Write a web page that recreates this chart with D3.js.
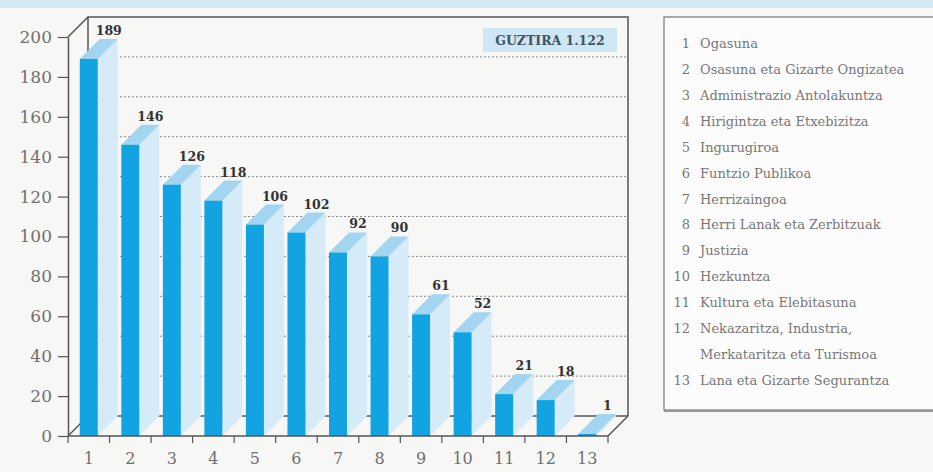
<!DOCTYPE html>
<html><head><meta charset="utf-8">
<script src="https://cdn.jsdelivr.net/npm/d3@7"></script>
<style>html,body{margin:0;padding:0;background:#f7f7f6;overflow:hidden}</style>
</head><body><svg id="c" width="933" height="472"></svg>
<script>
const categories = ["1","2","3","4","5","6","7","8","9","10","11","12","13"];
const values = [189,146,126,118,106,102,92,90,61,52,21,18,1];
const yTicks = [0,20,40,60,80,100,120,140,160,180,200];
const legendNumbers = ["1","2","3","4","5","6","7","8","9","10","11","12","","13"];
const legendLabels = ["Ogasuna","Osasuna eta Gizarte Ongizatea","Administrazio Antolakuntza","Hirigintza eta Etxebizitza","Ingurugiroa","Funtzio Publikoa","Herrizaingoa","Herri Lanak eta Zerbitzuak","Justizia","Hezkuntza","Kultura eta Elebitasuna","Nekazaritza, Industria,","Merkataritza eta Turismoa","Lana eta Gizarte Segurantza"];
const totalLabel = "GUZTIRA 1.122";

const svg = d3.select("#c");
const D = 20; // depth offset
const x = d3.scaleBand().domain(categories).range([68,608]);
const y = d3.scaleLinear().domain([0,200]).range([436,37]);
const serif = "'DejaVu Serif', serif";

svg.append("rect").attr("x",0).attr("y",0).attr("width",933).attr("height",8).attr("fill","#d3e8f4");

const g = svg.append("g");
g.selectAll("line.grid").data(yTicks.filter(v=>v>0 && v<200)).enter().append("line")
  .attr("x1",x.range()[0]+D).attr("x2",x.range()[1]+D)
  .attr("y1",d=>y(d)-D).attr("y2",d=>y(d)-D)
  .attr("stroke","#8a8a8a").attr("stroke-width",1).attr("stroke-dasharray","2,2");

const x0 = x.range()[0], x1 = x.range()[1], yT = y(200), y0 = y(0);
const frame = g.append("g").attr("fill","none").attr("stroke","#555").attr("stroke-width",1.5);
frame.append("path").attr("d",`M${x0},${yT}L${x0+D},${yT-D}L${x1+D},${yT-D}L${x1+D},${y0-D}`);
frame.append("line").attr("x1",x0+D).attr("y1",yT-D).attr("x2",x0+D).attr("y2",y0-D);
frame.append("line").attr("x1",x0+D).attr("y1",y0-D).attr("x2",x1+D).attr("y2",y0-D);
frame.append("line").attr("x1",x0).attr("y1",y0).attr("x2",x0+D).attr("y2",y0-D);

g.append("rect").attr("x",483).attr("y",28).attr("width",134).attr("height",24).attr("fill","#cfe6f4");
g.append("text").attr("x",550).attr("y",44.5).attr("text-anchor","middle")
  .attr("font-family",serif).attr("font-weight","bold").attr("font-size",12.5)
  .attr("fill","#3e5563").text(totalLabel);

const bw = 18;
const bars = g.selectAll("g.bar").data(values.map((v,i)=>({c:categories[i],v}))).enter().append("g");
bars.each(function(d){
  const s = d3.select(this);
  const bx0 = x(d.c)+x.bandwidth()/2-bw/2, bx1 = bx0+bw, top = y(d.v), bot = y(0);
  s.append("path").attr("d",`M${bx1},${top}L${bx1+D},${top-D}L${bx1+D},${bot-D}L${bx1},${bot}Z`).attr("fill","#d5ebf7");
  s.append("path").attr("d",`M${bx0},${top}L${bx1},${top}L${bx1+D},${top-D}L${bx0+D},${top-D}Z`).attr("fill","#a3d5f0");
  s.append("rect").attr("x",bx0).attr("y",top).attr("width",bw).attr("height",bot-top).attr("fill","#12a4e2");
  s.append("text").attr("x",bx0+bw/2+D).attr("y",top-D-4).attr("text-anchor","middle")
   .attr("font-family",serif).attr("font-weight","bold").attr("font-size",12.5).attr("fill","#333").text(d.v);
});

const axY = svg.append("g").attr("transform",`translate(${x0},0)`)
  .call(d3.axisLeft(y).tickValues(yTicks).tickSize(10).tickPadding(6).tickSizeOuter(0));
axY.select(".domain").attr("stroke","#555").attr("stroke-width",1.5);
axY.selectAll(".tick line").attr("stroke","#555").attr("stroke-width",1.2);
axY.selectAll("text").attr("font-family",serif).attr("font-size",17).attr("fill","#707070");

const bounds = categories.map(c=>x(c)).concat([x1]);
svg.append("g").selectAll("line").data(bounds).enter().append("line")
  .attr("x1",d=>d).attr("x2",d=>d).attr("y1",y0).attr("y2",y0+7).attr("stroke","#555").attr("stroke-width",1.2);
const axX = svg.append("g").attr("transform",`translate(0,${y0})`)
  .call(d3.axisBottom(x).tickSize(0).tickPadding(17));
axX.select(".domain").remove();
axX.selectAll("text").attr("font-family",serif).attr("font-size",16).attr("fill","#707070");
svg.append("path").attr("d",`M${x0},${y0}L${x1},${y0}L${x1+D},${y0-D}`).attr("fill","none").attr("stroke","#555").attr("stroke-width",1.5);

const lg = svg.append("g");
lg.append("rect").attr("x",664).attr("y",17).attr("width",290).attr("height",393).attr("fill","#fcfcfc").attr("stroke","#777").attr("stroke-width",1.2);
lg.append("line").attr("x1",664).attr("x2",933).attr("y1",411).attr("y2",411).attr("stroke","#999").attr("stroke-width",2);
const ly = d3.scaleLinear().domain([0,13]).range([43,380]);
lg.selectAll("text.n").data(legendNumbers).enter().append("text")
  .attr("x",690).attr("y",(d,i)=>ly(i)+5).attr("text-anchor","end")
  .attr("font-family",serif).attr("font-size",13).attr("fill","#777").text(d=>d);
lg.selectAll("text.l").data(legendLabels).enter().append("text")
  .attr("x",700).attr("y",(d,i)=>ly(i)+5)
  .attr("font-family",serif).attr("font-size",13).attr("fill","#777").text(d=>d);
</script></body></html>
